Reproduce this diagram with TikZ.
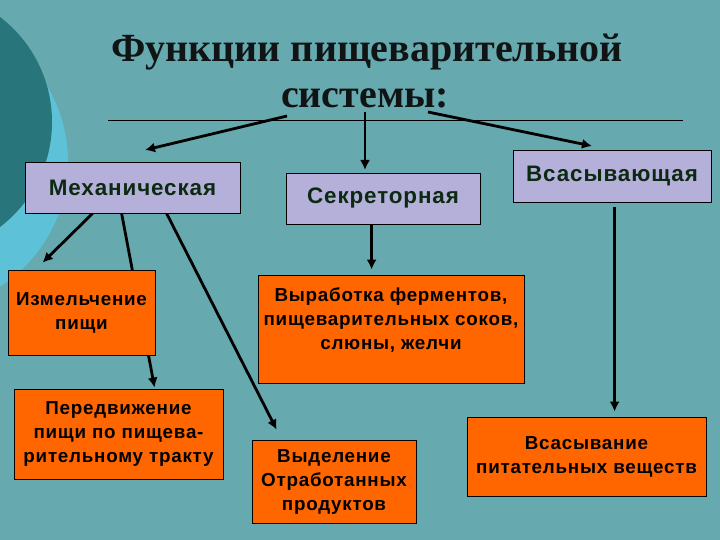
\documentclass[tikz,border=0pt]{standalone}
\usepackage{fontspec}
\setmainfont{Liberation Serif}
\newfontfamily\boxfont[LetterSpace=4]{Liberation Sans}
\usetikzlibrary{arrows.meta,calc}
\definecolor{bgteal}{HTML}{66A9AE}
\definecolor{darkcirc}{HTML}{28767B}
\definecolor{lightcirc}{HTML}{5DC2D7}
\definecolor{lavbox}{HTML}{B4B0DA}
\definecolor{orbox}{HTML}{FF6600}
\definecolor{lavtext}{HTML}{0C2A12}
\definecolor{titletext}{HTML}{111414}
\pgfdeclarelayer{bg}
\pgfdeclarelayer{arr}
\pgfsetlayers{bg,arr,main}
\tikzset{
  lav/.style={draw=black, line width=0.8pt, fill=lavbox, text=lavtext, inner sep=0pt,
    font=\boxfont\bfseries\fontsize{22.4}{26}\selectfont},
  orng/.style={draw=black, line width=0.8pt, fill=orbox, text=black, inner sep=0pt, align=center,
    font=\boxfont\bfseries\fontsize{18.8}{24}\selectfont},
  txt/.style={text=black, align=center, inner sep=0pt,
    font=\boxfont\bfseries\fontsize{18.8}{24}\selectfont},
  ttl/.style={text=titletext, anchor=base, inner sep=0pt,
    font=\bfseries\fontsize{40}{46}\selectfont},
  conn/.style={line width=2.8pt, draw=black, -{Latex[length=10pt,width=10pt]}}
}
\begin{document}
\begin{tikzpicture}[x=1pt,y=-1pt]
\useasboundingbox (0,0) rectangle (720,540);
\begin{pgfonlayer}{bg}
\fill[bgteal] (0,0) rectangle (720,540);
\begin{scope}
\clip (0,0) rectangle (720,540);
\fill[lightcirc] (-80,162) circle[radius=148];
\fill[darkcirc] (-80,122) circle[radius=132];
\end{scope}
\end{pgfonlayer}

\node[ttl] (t1) at (367,62) {Функции пищеварительной};
\node[ttl] (t2) at (365,108) {системы:};
\coordinate (hl) at (108,120);
\coordinate (hr) at (683,120);
\draw[line width=0.8pt] (hl) -- (hr);

\node[lav, minimum width=215, minimum height=51] (mech) at (132.5,187.5) {Механическая};
\node[lav, minimum width=194, minimum height=51] (sekr) at (383,198.5) {Секреторная};
\node[lav, minimum width=198, minimum height=52] (vsas) at (612,176) {Всасывающая};

\node[orng, minimum width=147, minimum height=85] (izm) at (81.5,312.5) {Измельчение\\пищи};
\node[orng, minimum width=209, minimum height=90] (pered) at (118.5,434) {Передвижение\\пищи по пищева-\\рительному тракту};
\node[orng, minimum width=266, minimum height=108] (vyrab) at (391,329) {};
\node[txt] (vyrabt) at (391,320) {Выработка ферментов,\\пищеварительных соков,\\слюны, желчи};
\node[orng, minimum width=164, minimum height=83] (vydel) at (334,481.5) {Выделение\\Отработанных\\продуктов};
\node[orng, minimum width=239, minimum height=79] (vsv) at (586.5,456.5) {Всасывание\\питательных веществ};

\begin{pgfonlayer}{arr}
\coordinate (s1) at (287,116);
\coordinate (s2) at (365,112);
\coordinate (s3) at (428,112);
\coordinate (e1) at (145,150);
\coordinate (e2) at (365,170);
\coordinate (e3) at (592,146);
\draw[conn] (s1) -- (e1);
\draw[conn] (s2) -- (e2);
\draw[conn] (s3) -- (e3);
\draw[conn] ($(mech.south west)+(68,0)$) -- ($(izm.north west)+(35,-7)$);
\draw[conn] ($(mech.south west)+(97,0)$) -- ($(pered.north west)+(141,-1)$);
\draw[conn] ($(mech.south west)+(142,0)$) -- ($(vydel.north west)+(25,-10)$);
\draw[conn] ($(sekr.south west)+(86,0)$) -- ($(vyrab.north west)+(114,-5)$);
\draw[conn] ($(vsas.south west)+(102,5)$) -- ($(vsv.north west)+(148,-5)$);
\end{pgfonlayer}
\end{tikzpicture}
\end{document}
